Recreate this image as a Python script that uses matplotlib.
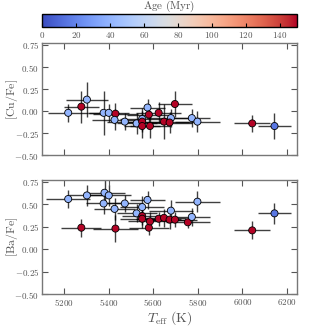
import numpy as np
import matplotlib
matplotlib.use('Agg')
import matplotlib.pyplot as plt
from matplotlib.ticker import FuncFormatter, MultipleLocator

''' abundance trends of [Cu/Fe] and [Ba/Fe] against Teff, coloured by age'''

plt.rcParams['mathtext.fontset'] = 'cm'
plt.rcParams['font.family'] = 'DejaVu Serif'

# [Cu/Fe] panel
cu_teff = [5218, 5277, 5302, 5377, 5400, 5430, 5426, 5472, 5525, 5550, 5550, 5550,
           5574, 5580, 5585, 5624, 5648, 5679, 5673, 5697, 5773, 5798, 6044, 6144]
cu_val = [-0.02, 0.05, 0.13, -0.02, -0.02, -0.03, -0.10, -0.12, -0.14, -0.09, -0.12, -0.17,
          0.04, -0.04, -0.17, -0.02, -0.12, -0.08, -0.13, 0.08, -0.08, -0.12, -0.14, -0.17]
cu_xerr = [90, 80, 95, 70, 90, 100, 100, 80, 90, 100, 90, 80,
           80, 100, 90, 100, 110, 110, 100, 75, 80, 100, 80, 75]
cu_yerr = [0.10, 0.18, 0.20, 0.25, 0.10, 0.12, 0.12, 0.10, 0.12, 0.12, 0.12, 0.14,
           0.10, 0.12, 0.14, 0.12, 0.20, 0.10, 0.12, 0.15, 0.10, 0.12, 0.10, 0.15]
cu_age = [40, 150, 40, 40, 40, 150, 40, 40, 40, 40, 150, 150,
          40, 150, 150, 150, 150, 40, 150, 150, 40, 40, 150, 15]

# [Ba/Fe] panel
ba_teff = [5218, 5277, 5302, 5377, 5381, 5400, 5430, 5426, 5472, 5525, 5550, 5550, 5550,
           5574, 5580, 5585, 5624, 5648, 5679, 5673, 5697, 5755, 5773, 5798, 6044, 6144]
ba_val = [0.56, 0.24, 0.60, 0.51, 0.63, 0.60, 0.23, 0.45, 0.51, 0.40, 0.47, 0.37, 0.34,
          0.55, 0.24, 0.31, 0.34, 0.35, 0.43, 0.33, 0.33, 0.30, 0.36, 0.53, 0.21, 0.40]
ba_xerr = [100, 90, 80, 80, 90, 100, 100, 90, 80, 90, 100, 90, 100,
           80, 90, 100, 100, 100, 100, 90, 100, 100, 80, 100, 80, 75]
ba_yerr = [0.10, 0.10, 0.12, 0.12, 0.14, 0.12, 0.15, 0.12, 0.10, 0.10, 0.12, 0.10, 0.10,
           0.10, 0.08, 0.10, 0.08, 0.10, 0.12, 0.10, 0.08, 0.06, 0.10, 0.12, 0.10, 0.12]
ba_age = [40, 150, 40, 40, 40, 40, 150, 40, 40, 40, 40, 150, 150,
          40, 150, 150, 150, 150, 40, 150, 150, 150, 40, 40, 150, 15]

cb_ticks = [0, 20, 40, 60, 80, 100, 120, 140]

cmap = plt.cm.coolwarm
norm = plt.Normalize(0, 150)
gray = '#555555'

fig = plt.figure(figsize=(3.3, 3.3), dpi=100)
ax1 = fig.add_axes([0.127, 0.530, 0.773, 0.339])
ax2 = fig.add_axes([0.127, 0.109, 0.773, 0.345])
cax = fig.add_axes([0.127, 0.918, 0.773, 0.040])


def panel(ax, teff, val, xerr, yerr, age, label):
    ax.errorbar(teff, val, xerr=xerr, yerr=yerr, fmt='none', ecolor='k',
                elinewidth=1.0, alpha=0.75, zorder=1)
    sc = ax.scatter(teff, val, c=age, cmap=cmap, norm=norm, s=26,
                    edgecolors='k', linewidths=0.6, zorder=3)
    ax.set_xlim(5100, 6245)
    ax.set_ylim(-0.5, 0.77)
    ax.xaxis.set_major_locator(MultipleLocator(200))
    ax.yaxis.set_major_locator(MultipleLocator(0.25))
    ax.yaxis.set_major_formatter(FuncFormatter(lambda v, p: r'$%.2f$' % v))
    ax.xaxis.set_major_formatter(FuncFormatter(lambda v, p: r'$%d$' % v))
    ax.tick_params(direction='in', top=True, right=True, length=4, width=0.8,
                   color=gray, labelcolor=gray, labelsize=6.5, pad=2)
    for s in ax.spines.values():
        s.set_color('#777777')
        s.set_linewidth(1.0)
    ax.set_ylabel(label, fontsize=8.5, color=gray)
    ax.yaxis.set_label_coords(-0.085, 0.5)
    return sc


sc = panel(ax1, cu_teff, cu_val, cu_xerr, cu_yerr, cu_age, r'$\mathrm{[Cu/Fe]}$')
ax1.tick_params(labelbottom=False)
panel(ax2, ba_teff, ba_val, ba_xerr, ba_yerr, ba_age, r'$\mathrm{[Ba/Fe]}$')
ax2.set_xlabel(r'$T_{\rm eff}\ \mathrm{(K)}$', fontsize=10, color=gray, labelpad=1)

cb = fig.colorbar(sc, cax=cax, orientation='horizontal', ticks=cb_ticks)
cb.ax.tick_params(direction='in', length=3, width=0.8, labelsize=6.5,
                  color='k', labelcolor=gray, pad=2)
cb.ax.xaxis.set_major_formatter(FuncFormatter(lambda v, p: r'$%d$' % v))
cb.outline.set_linewidth(1.0)
fig.text(0.127 + 0.773 / 2, 0.958, r'$\mathrm{Age\ (Myr)}$', fontsize=8,
         color=gray, ha='center', va='bottom')

plt.savefig('out.png', dpi=100)
